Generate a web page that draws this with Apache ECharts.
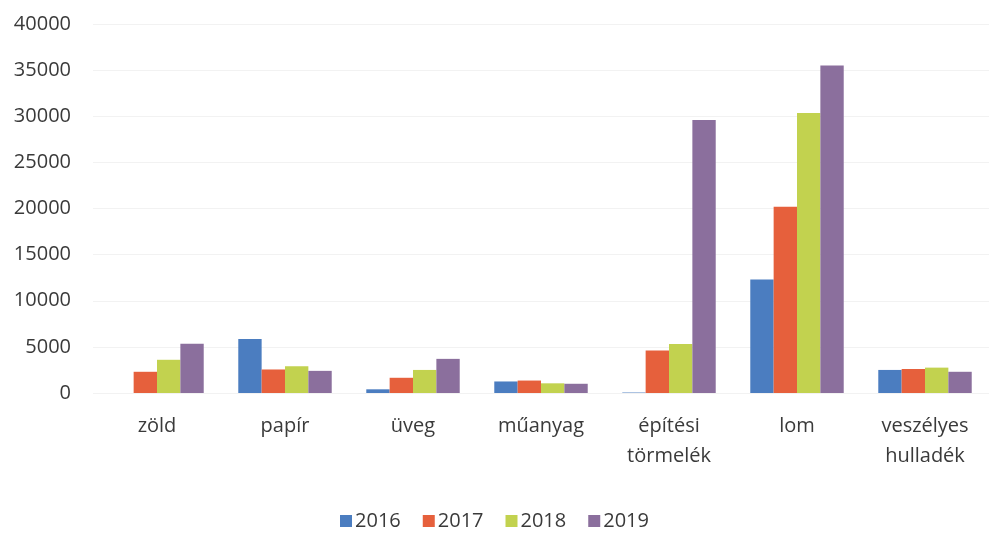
<!DOCTYPE html>
<html><head><meta charset="utf-8">
<script src="https://cdn.jsdelivr.net/npm/echarts@6/dist/echarts.min.js"></script>
<style>html,body{margin:0;padding:0;background:#fff}#c{width:989px;height:538px}</style>
</head><body><div id="c"></div>
<script>
const categories = ['zöld','papír','üveg','műanyag','építési\ntörmelék','lom','veszélyes\nhulladék'];
const years = ['2016','2017','2018','2019'];
const v2016 = [0, 5850, 400, 1250, 50, 12300, 2500];
const v2017 = [2300, 2550, 1650, 1350, 4600, 20200, 2600];
const v2018 = [3600, 2900, 2500, 1050, 5300, 30350, 2750];
const v2019 = [5350, 2400, 3700, 1000, 29600, 35500, 2300];
const yTicks = {min: 0, max: 40000, interval: 5000};
const colors = ['#4b7dc0', '#e6603c', '#c2d24f', '#8b6f9d'];
const values = [v2016, v2017, v2018, v2019];

const chart = echarts.init(document.getElementById('c'));
const font = '"Open Sans", "Noto Sans", sans-serif';
chart.setOption({
  animation: false,
  textStyle: {fontFamily: font},
  grid: {left: 93, right: -19, top: 24, bottom: 145, containLabel: false},
  legend: {
    bottom: 2, left: 'center',
    itemWidth: 12, itemHeight: 12, itemGap: 22,
    icon: 'rect',
    textStyle: {fontSize: 20, color: '#3a3a3a', fontFamily: font, padding: [0, 0, 0, -2]},
    data: years
  },
  xAxis: {
    type: 'category', data: categories,
    axisLine: {show: false}, axisTick: {show: false},
    axisLabel: {fontSize: 20, color: '#3a3a3a', margin: 18, lineHeight: 30, interval: 0, fontFamily: font}
  },
  yAxis: {
    type: 'value', min: yTicks.min, max: yTicks.max, interval: yTicks.interval,
    axisLine: {show: false}, axisTick: {show: false},
    axisLabel: {fontSize: 20, color: '#3a3a3a', margin: 22, fontFamily: font, formatter: v => String(v)},
    splitLine: {lineStyle: {color: '#f2f2f2', width: 1}}
  },
  series: years.map((y, i) => ({
    name: y, type: 'bar', data: values[i],
    itemStyle: {color: colors[i]},
    barGap: '0%', barCategoryGap: '27%'
  }))
});
</script></body></html>
